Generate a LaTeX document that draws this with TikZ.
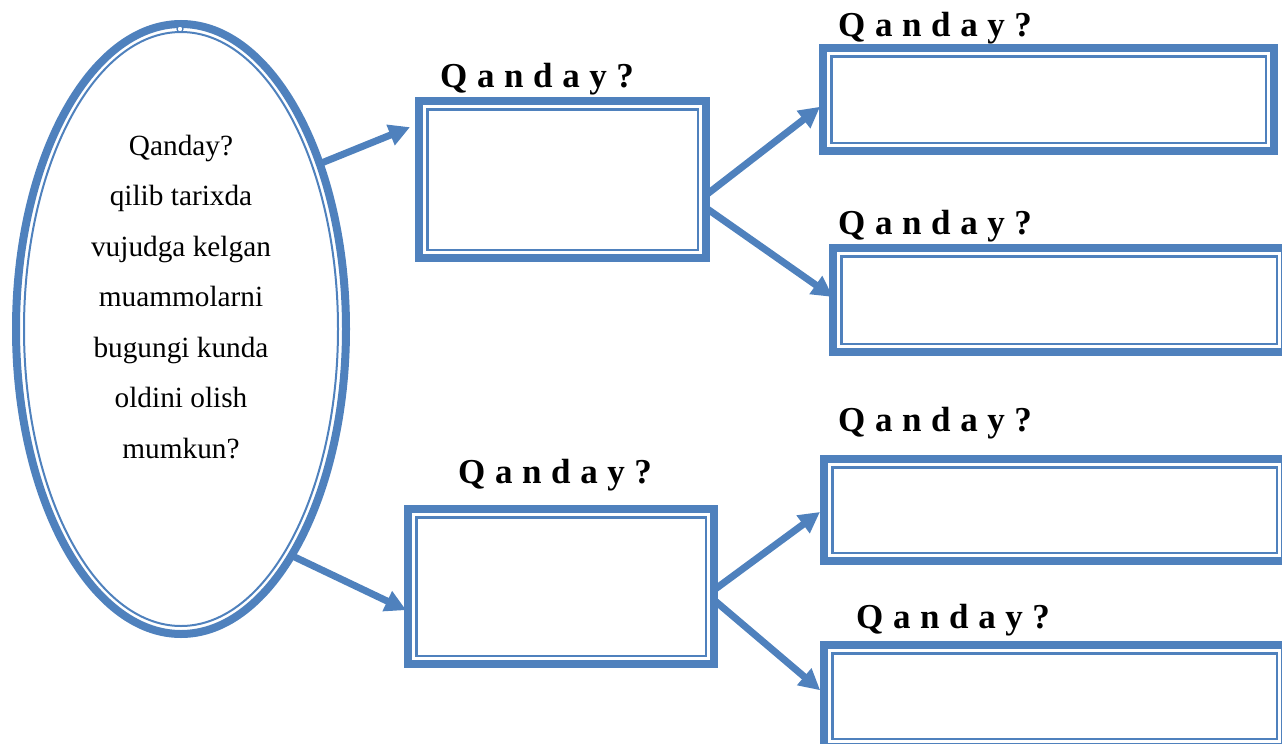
\documentclass[tikz,border=0pt]{standalone}
\usepackage{fontspec}
\setmainfont{Liberation Serif}
\usetikzlibrary{arrows.meta,shapes.geometric}
\definecolor{myblue}{RGB}{79,129,189}
\newcommand{\qandaytxt}{{\spaceskip=9.6pt\relax Q a n d a y ?}}
\begin{document}
\begin{tikzpicture}[x=1pt,y=-1pt,
  box/.style={draw=myblue, line width=8pt, fill=white, inner sep=0pt, outer sep=0pt},
  innerline/.style={draw=myblue, line width=2.5pt},
  lbl/.style={font=\fontsize{35}{40}\selectfont\bfseries, inner sep=0pt, anchor=base west},
  conn/.style={draw=myblue, line width=7pt, -{Triangle[length=21pt,width=21pt]}},
  elltext/.style={font=\fontsize{29.3}{50.5}\selectfont, align=center, inner sep=0pt}
]
\useasboundingbox (0,0) rectangle (1282,744);

% ellipse
\node[ellipse, draw=myblue, line width=8pt, minimum width=330pt, minimum height=610pt,
      inner sep=0pt, outer sep=0pt] (ell) at (181,329) {};
\draw[myblue, line width=2pt] (ell.center) ellipse [x radius=157, y radius=297];
\draw[myblue, line width=1.2pt, fill=white] (180,29) circle [radius=3];
\node[elltext] (etxt) at (181,297) {Qanday?\\qilib tarixda\\vujudga kelgan\\muammolarni\\bugungi kunda\\oldini olish\\mumkun?};

% boxes
\node[box, minimum width=287pt, minimum height=157pt] (b1) at (562.5,179.5) {};
\node[box, minimum width=306pt, minimum height=155pt] (b2) at (561,586.5) {};
\node[box, minimum width=451pt, minimum height=103pt] (r1) at (1048.5,99.5) {};
\node[box, minimum width=452pt, minimum height=104pt] (r2) at (1059,300) {};
\node[box, minimum width=461pt, minimum height=102pt] (r3) at (1054.5,510) {};
\node[box, minimum width=461pt, minimum height=102pt] (r4) at (1054.5,696) {};
\foreach \n in {b1,b2,r1,r2,r3,r4}
  \draw[innerline] ([shift={(8.25,8.25)}]\n.north west) rectangle ([shift={(-8.25,-8.25)}]\n.south east);

% labels
\node[lbl] (lb1) at (440,87) {\qandaytxt};
\node[lbl] (lb2) at (458,483) {\qandaytxt};
\node[lbl] (lr1) at (838,36) {\qandaytxt};
\node[lbl] (lr2) at (838,234) {\qandaytxt};
\node[lbl] (lr3) at (838,431) {\qandaytxt};
\node[lbl] (lr4) at (856,628) {\qandaytxt};

% connectors
\draw[conn, shorten >=9.7pt] (ell.50) -- ([yshift=56pt]b1.west);
\draw[conn, shorten >=2pt] (ell.-64) -- ([yshift=-24.5pt]b2.west);
\draw[conn, shorten >=3.7pt] ([yshift=-15.5pt]b1.east) -- ([yshift=-5pt]r1.west);
\draw[conn] ([yshift=-28.5pt]b1.east) -- ([yshift=3pt]r2.west);
\draw[conn, shorten >=5pt] ([yshift=-3.5pt]b2.east) -- ([yshift=1pt]r3.west);
\draw[conn, shorten >=5pt] ([yshift=-13.5pt]b2.east) -- ([yshift=2.5pt]r4.west);
\end{tikzpicture}
\end{document}
